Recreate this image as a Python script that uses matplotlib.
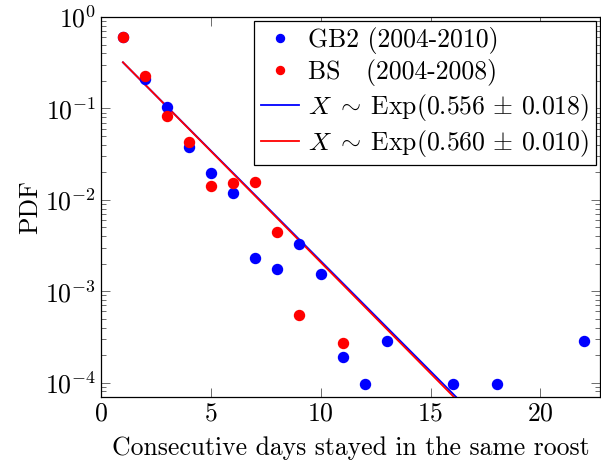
import matplotlib
matplotlib.use("Agg")
import matplotlib.pyplot as plt
import numpy as np
from matplotlib.ticker import LogLocator, NullFormatter

plt.rcParams['font.family'] = ['cmr10', 'DejaVu Serif']
plt.rcParams['mathtext.fontset'] = 'cm'
plt.rcParams['axes.unicode_minus'] = False
plt.rcParams['axes.formatter.use_mathtext'] = True

# GB2 roost data (2004-2010)
gb2_days = [1, 2, 3, 4, 5, 6, 7, 8, 9, 10, 11, 12, 13, 16, 18, 22]
gb2_pdf = [0.60, 0.209, 0.104, 0.038, 0.0196, 0.0120, 0.00229, 0.00174,
           0.00326, 0.00155, 0.000191, 0.0000964, 0.000288, 0.0000964,
           0.0000964, 0.000288]

# BS roost data (2004-2008)
bs_days = [1, 2, 3, 4, 5, 6, 7, 8, 9, 11]
bs_pdf = [0.606, 0.225, 0.0824, 0.0425, 0.0143, 0.0154, 0.0157, 0.00441,
          0.00055, 0.000274]

# fitted exponential rates
gb2_rate, gb2_err = 0.556, 0.018
bs_rate, bs_err = 0.560, 0.010

blue = (0, 0, 1)
red = (1, 0, 0)
fs = 18.5

fig = plt.figure(figsize=(6.01, 4.66), dpi=100)
ax = fig.add_axes([0.168, 0.149, 0.830, 0.8145])

ax.plot(gb2_days, gb2_pdf, 'o', color=blue, markersize=7.2, label='GB2 (2004-2010)', zorder=3)
ax.plot(bs_days, bs_pdf, 'o', color=red, markersize=7.2, label='BS   (2004-2008)', zorder=3)

xs = np.linspace(1, 22, 200)
ax.plot(xs, gb2_rate * np.exp(-gb2_rate * xs), color=blue, lw=1.3,
        label=r'$X\;\sim\;\mathrm{Exp}(%.3f\,\pm\,%.3f)$' % (gb2_rate, gb2_err))
ax.plot(xs, bs_rate * np.exp(-bs_rate * xs), color=red, lw=1.3,
        label=r'$X\;\sim\;\mathrm{Exp}(%.3f\,\pm\,%.3f)$' % (bs_rate, bs_err))

ax.set_yscale('log')
ax.set_xlim(0, 22.7)
ax.set_ylim(7.03e-5, 1)
ax.set_xticks([0, 5, 10, 15, 20])
ax.yaxis.set_major_locator(LogLocator(base=10, numticks=10))
ax.yaxis.set_minor_locator(LogLocator(base=10, subs=np.arange(2, 10), numticks=10))
ax.yaxis.set_minor_formatter(NullFormatter())

ax.tick_params(which='both', direction='in', top=True, right=True, labelsize=fs, colors='black')
ax.tick_params(which='major', length=6.5, width=0.6, color='#555555')
ax.tick_params(which='minor', length=3.5, width=0.6, color='#555555')
for s in ax.spines.values():
    s.set_linewidth(0.9)

ax.set_xlabel('Consecutive days stayed in the same roost', fontsize=fs, labelpad=8)
ax.set_ylabel('PDF', fontsize=fs, labelpad=2)

leg = ax.legend(loc='upper right', fontsize=fs, frameon=True, fancybox=False,
                edgecolor='black', framealpha=1, borderaxespad=0.15,
                handlelength=1.5, handletextpad=0.35, labelspacing=0.2,
                borderpad=0.25, markerscale=0.8)
leg.get_frame().set_linewidth(0.9)

fig.savefig('out.png', dpi=100)
